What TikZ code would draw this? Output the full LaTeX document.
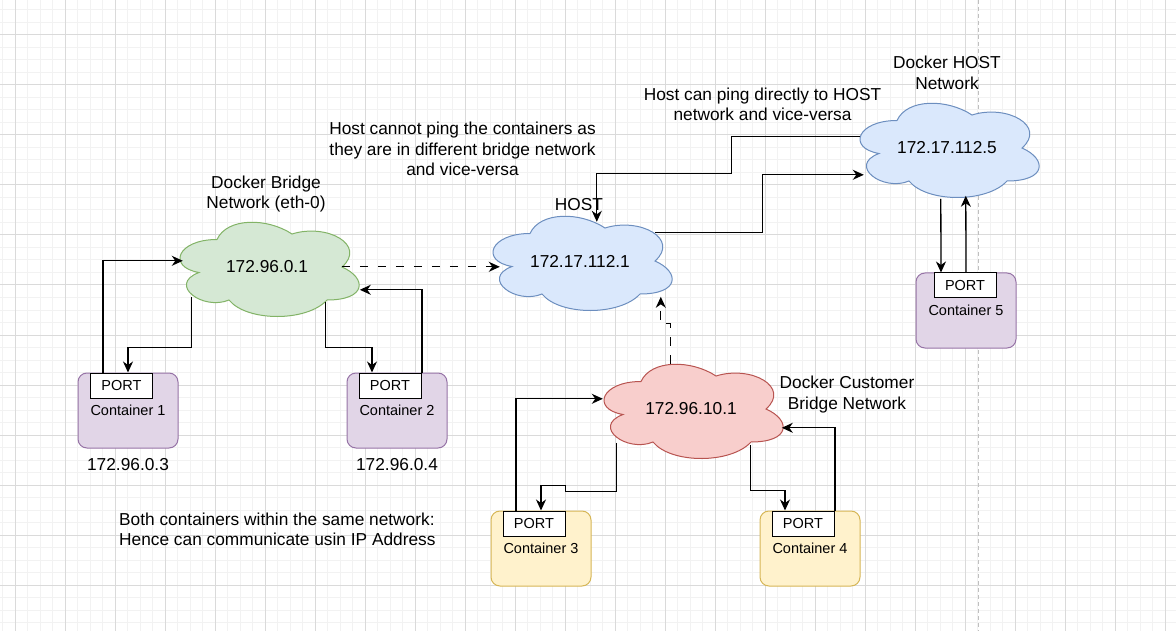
\documentclass[tikz,border=0pt]{standalone}
\usepackage{fontspec}
\setmainfont{Liberation Sans}
\usetikzlibrary{arrows.meta,positioning}

\definecolor{purplefill}{HTML}{E1D5E7}
\definecolor{purpleline}{HTML}{9673A6}
\definecolor{yellowfill}{HTML}{FFF2CC}
\definecolor{yellowline}{HTML}{D6B656}
\definecolor{greenfill}{HTML}{D5E8D4}
\definecolor{greenline}{HTML}{82B366}
\definecolor{bluefill}{HTML}{DAE8FC}
\definecolor{blueline}{HTML}{6C8EBF}
\definecolor{redfill}{HTML}{F8CECC}
\definecolor{redline}{HTML}{B85450}
\definecolor{gridminor}{HTML}{F2F2F2}
\definecolor{gridmajor}{HTML}{DADADA}

\newcommand{\lblfont}{\fontsize{17.3}{20.7}\selectfont}
\newcommand{\boxfont}{\fontsize{14.5}{17}\selectfont}

% cloud outline in a 200 x 110 box, named node in the middle
\newcommand{\netcloud}[5]{%
  \begin{scope}[shift={(#3,#4)},xscale=200,yscale=110]
    \draw[line width=1pt,#1] (0.25,0.25) .. controls (0.05,0.25) and (0,0.5) .. (0.16,0.55)
      .. controls (0,0.66) and (0.18,0.9) .. (0.31,0.8)
      .. controls (0.4,1) and (0.7,1) .. (0.8,0.8)
      .. controls (1,0.8) and (1,0.6) .. (0.875,0.5)
      .. controls (1,0.3) and (0.8,0.1) .. (0.625,0.2)
      .. controls (0.5,0.05) and (0.3,0.05) .. (0.25,0.25) -- cycle;
    \node[cloudtext] (#2) at (0.5,0.5) {#5};
  \end{scope}}

\begin{document}
\begin{tikzpicture}[x=1pt,y=-1pt,
    contbox/.style={draw, rounded corners=9pt, minimum width=100, minimum height=75, line width=1pt, font=\boxfont},
    portbox/.style={draw, fill=white, minimum width=62, minimum height=25, inner sep=0pt, line width=1pt, anchor=north west, font=\boxfont},
    cloudtext/.style={minimum width=200, minimum height=110, inner sep=0pt, font=\lblfont},
    lbl/.style={font=\lblfont, align=center},
    link/.style={-{Stealth[length=11pt,width=10pt,inset=3.5pt]}, line width=1.3pt},
    dashlink/.style={link, dash pattern=on 8.5pt off 9.5pt}]
    \useasboundingbox (0,0) rectangle (1176,631);
    \fill[white] (0,0) rectangle (1176,631);

    % grid
    \foreach \gx in {2.5,15,...,1177} \draw[gridminor, line width=1pt] (\gx,0) -- (\gx,631);
    \foreach \gy in {10,22.5,...,631} \draw[gridminor, line width=1pt] (0,\gy) -- (1176,\gy);
    \foreach \gx in {15,65,...,1165} \draw[gridmajor, line width=1pt] (\gx,0) -- (\gx,631);
    \foreach \gy in {35,85,...,585} \draw[gridmajor, line width=1pt] (0,\gy) -- (1176,\gy);
    \draw[black!25, line width=1pt, dash pattern=on 4pt off 3pt] (978,0) -- (978,631);

    % containers
    \node[contbox, fill=purplefill, draw=purpleline] (c1) at (128,410.5) {Container 1};
    \node[portbox] (p1) at ([xshift=12.5]c1.north west) {PORT};
    \node[contbox, fill=purplefill, draw=purpleline] (c2) at (397,410.5) {Container 2};
    \node[portbox] (p2) at ([xshift=12]c2.north west) {PORT};
    \node[contbox, fill=yellowfill, draw=yellowline] (c3) at (541,548.5) {Container 3};
    \node[portbox] (p3) at ([xshift=12]c3.north west) {PORT};
    \node[contbox, fill=yellowfill, draw=yellowline] (c4) at (810,548.5) {Container 4};
    \node[portbox] (p4) at ([xshift=12]c4.north west) {PORT};
    \node[contbox, fill=purplefill, draw=purpleline] (c5) at (966,310.5) {Container 5};
    \node[portbox] (p5) at ([xshift=18]c5.north west) {PORT};

    \node[lbl, below=6pt of c1] (ip1) {172.96.0.3};
    \node[lbl, below=6pt of c2] (ip2) {172.96.0.4};

    % networks
    \netcloud{fill=greenfill, draw=greenline}{bridge}{167}{212}{172.96.0.1}
    \netcloud{fill=bluefill, draw=blueline}{host}{480}{206}{172.17.112.1}
    \netcloud{fill=bluefill, draw=blueline}{dhost}{847}{93}{172.17.112.5}
    \netcloud{fill=redfill, draw=redline}{custom}{591}{354}{172.96.10.1}

    \node[lbl] (bridgelbl) at (266,194) {Docker Bridge\\Network (eth-0)};
    \node[lbl] (nopinglbl) at (462.5,149) {Host cannot ping the containers as\\they are in different bridge network\\and vice-versa};
    \node[lbl] (hostlbl) at (579,205) {HOST};
    \node[lbl] (pinglbl) at (762.5,104.3) {Host can ping directly to HOST\\network and vice-versa};
    \node[lbl] (dhostlbl) at (947,73) {Docker HOST\\Network};
    \node[lbl] (customlbl) at (847,394.4) {Docker Customer\\Bridge Network};
    \node[lbl, align=left, anchor=west, inner sep=0pt] (samelbl) at (119,529.3) {Both containers within the same network:\\Hence can communicate usin IP Address};

    % bridge network
    \draw[link] ([xshift=-25]c1.north) |- ([shift={(16,49)}]bridge.north west);
    \draw[link] ([shift={(25,85)}]bridge.north west) -- ++(0,51) -| (c1.north);
    \draw[link] ([shift={(159,90)}]bridge.north west) -- ++(0,46) -| ([xshift=-25]c2.north);
    \draw[link] ([xshift=25]c2.north) |- ([shift={(193,78)}]bridge.north west);
    \draw[dashlink] ([shift={(175,55)}]bridge.north west) -- ([shift={(20,61)}]host.north west);

    % host network
    \draw[link] ([shift={(175,27)}]host.north west) -- ++(108,0) |- ([shift={(17,82)}]dhost.north west);
    \draw[link] ([shift={(13,44)}]dhost.north west) -- ++(-128,0) -- ++(0,37) -| ([shift={(117,16)}]host.north west);
    \draw[link] ([shift={(94,106)}]dhost.north west) -- ([xshift=-25]c5.north);
    \draw[link] (c5.north) -- ([shift={(119,103)}]dhost.north west);

    % custom bridge network
    \draw[dashlink] ([shift={(80,10)}]custom.north west) -- ++(0,-40) -| ([shift={(181,91)}]host.north west);
    \draw[link] ([xshift=-25]c3.north) |- ([shift={(12,45)}]custom.north west);
    \draw[link] ([shift={(26,89)}]custom.north west) -- ++(0,49) -- ++(-51,0) -- ++(0,-6) -| (c3.north);
    \draw[link] ([shift={(160,91)}]custom.north west) -- ++(0,46) -| ([xshift=-25]c4.north);
    \draw[link] ([xshift=25]c4.north) |- ([shift={(191,74)}]custom.north west);
\end{tikzpicture}
\end{document}
